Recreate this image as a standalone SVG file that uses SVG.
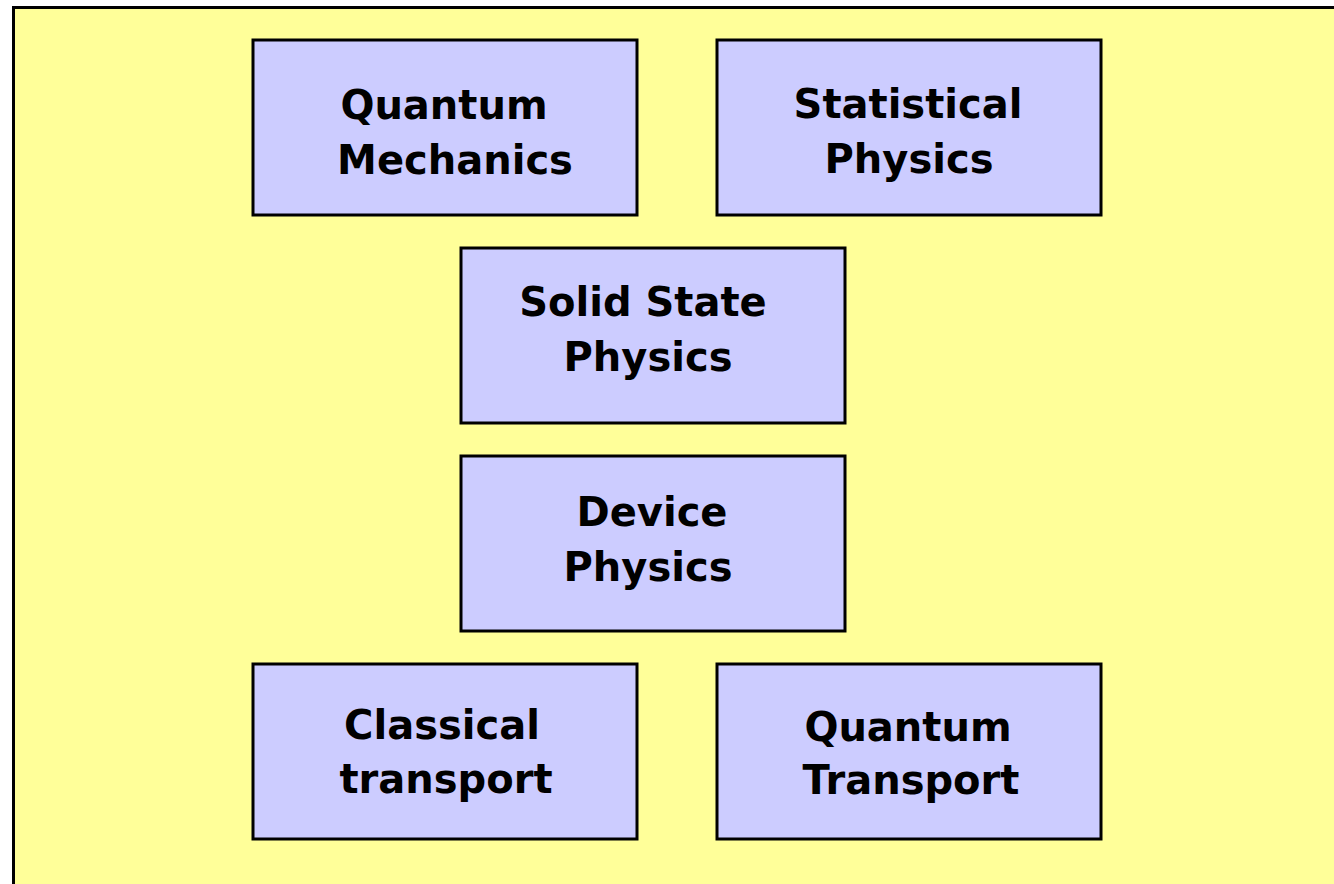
<svg xmlns="http://www.w3.org/2000/svg" width="1334" height="884" viewBox="0 0 1334 884">
<style>
.box{fill:#CCCCFF;stroke:#000;stroke-width:3}
.lbl{font-family:"Comic Sans MS","DejaVu Sans",sans-serif;font-weight:bold;font-size:40px;fill:#000;text-anchor:middle}
</style>
<rect x="0" y="0" width="1334" height="884" fill="#ffffff"/>
<rect x="13.5" y="7.5" width="1330" height="890" fill="#FFFF99" stroke="#000" stroke-width="3"/>
<g id="connectors"></g>
<g id="qm">
<rect class="box" x="253" y="40" width="384" height="175"/>
<text class="lbl" x="444" y="119">Quantum</text>
<text class="lbl" x="455" y="174">Mechanics</text>
</g>
<g id="sp">
<rect class="box" x="717" y="40" width="384" height="175"/>
<text class="lbl" x="908" y="118">Statistical</text>
<text class="lbl" x="909" y="173">Physics</text>
</g>
<g id="ssp">
<rect class="box" x="461" y="248" width="384" height="175"/>
<text class="lbl" x="643" y="316">Solid State</text>
<text class="lbl" x="648" y="371">Physics</text>
</g>
<g id="dp">
<rect class="box" x="461" y="456" width="384" height="175"/>
<text class="lbl" x="652" y="526">Device</text>
<text class="lbl" x="648" y="581">Physics</text>
</g>
<g id="ct">
<rect class="box" x="253" y="664" width="384" height="175"/>
<text class="lbl" x="442" y="739">Classical</text>
<text class="lbl" x="446" y="793">transport</text>
</g>
<g id="qt">
<rect class="box" x="717" y="664" width="384" height="175"/>
<text class="lbl" x="908" y="741">Quantum</text>
<text class="lbl" x="911" y="794">Transport</text>
</g>
</svg>
